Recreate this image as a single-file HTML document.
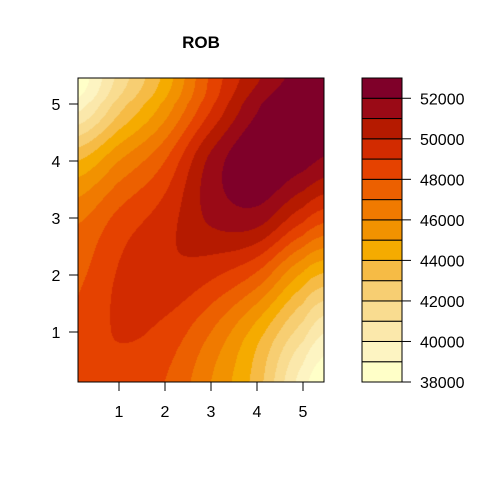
<!DOCTYPE html>
<html><head><meta charset="utf-8"><style>
body{margin:0;background:#fff;}
#wrap{position:relative;width:480px;height:480px;font-family:"Liberation Sans",Arial,sans-serif;}
canvas,svg{position:absolute;left:0;top:0;}
</style></head><body>
<div id="wrap">
<canvas id="field" width="480" height="480"></canvas>
<svg id="ov" width="480" height="480"></svg>
</div>
<script>
const gridX=[0.1,1,2,3,4,5,5.5];
const gridY=[0.14,1,2,3,4,5,5.48];
const zRow0=[48.5,48.5,48,46,43.5,39.5,38.3];
const zRow1=[48.2,49.1,48.7,47,44.5,41.5,40];
const zRow2=[47.8,49.1,49.8,49.2,47.8,44.8,43.8];
const zRow3=[46.8,48.3,49.5,51.2,51.5,49.3,48.3];
const zRow4=[44,46,48,51.3,53,52.4,51.8];
const zRow5=[39.5,42.5,45.3,48.8,51.8,53,53];
const zRow6=[38.3,41.3,44.3,48.2,50.8,52.5,52.8];
const levels=[38000,39000,40000,41000,42000,43000,44000,45000,46000,47000,48000,49000,50000,51000,52000,53000];
const bandColors=["#FFFFC8","#FDF4C2","#FBE8AB","#F9DC90","#F7CE72","#F6BB45","#F5AB00","#F29200","#F07A00","#EC6000","#E54200","#D22B00","#B51A00","#9A0A16","#7F0029"];
const xTicks=[1,2,3,4,5];
const yTicks=[1,2,3,4,5];
const legendTicks=[38000,40000,42000,44000,46000,48000,50000,52000];
const title="ROB";
const zRows=[zRow0,zRow1,zRow2,zRow3,zRow4,zRow5,zRow6];

const PL=78,PR=324,PT=78,PB=382;
const sx=v=>73+46*v, sy=v=>389-57*v;
function fidx(arr,v){if(v<=arr[0])return 0;for(let i=0;i<arr.length-1;i++){if(v<=arr[i+1])return i+(v-arr[i])/(arr[i+1]-arr[i]);}return arr.length-1;}
function cr(p0,p1,p2,p3,t){return 0.5*((2*p1)+(-p0+p2)*t+(2*p0-5*p1+4*p2-p3)*t*t+(-p0+3*p1-3*p2+p3)*t*t*t);}
function g(r,c){r=Math.max(0,Math.min(6,r));c=Math.max(0,Math.min(6,c));return zRows[r][c];}
function zAt(x,y){
  const fx=fidx(gridX,x),fy=fidx(gridY,y);
  let i=Math.min(5,Math.floor(fx)),j=Math.min(5,Math.floor(fy));
  const tx=fx-i,ty=fy-j;const col=[];
  for(let k=-1;k<=2;k++){col.push(cr(g(j+k,i-1),g(j+k,i),g(j+k,i+1),g(j+k,i+2),tx));}
  return cr(col[0],col[1],col[2],col[3],ty)*1000;
}
const ctx=document.getElementById('field').getContext('2d');
for(let px=PL;px<PR;px++){for(let py=PT;py<PB;py++){
  const x=(px+0.5-73)/46,y=(389-py-0.5)/57;
  const z=zAt(x,y);let b=0;
  for(let k=0;k<levels.length-1;k++){if(z>=levels[k])b=k;}
  ctx.fillStyle=bandColors[b];ctx.fillRect(px,py,1,1);
}}
const NS='http://www.w3.org/2000/svg';const svg=document.getElementById('ov');
function mk(t,a,parent){const e=document.createElementNS(NS,t);for(const k in a)e.setAttribute(k,a[k]);(parent||svg).appendChild(e);return e;}
const frame=mk('rect',{x:PL,y:PT,width:PR-PL,height:PB-PT,fill:'none',stroke:'#000','stroke-width':1});


const t=mk('text',{x:201,y:48,'text-anchor':'middle','font-size':17,'font-weight':'bold'});t.textContent=title;


xTicks.forEach(v=>{const X=sx(v);
  const l=mk('line',{x1:X,x2:X,y1:PB,y2:PB+9,stroke:'#000'});
  
  
  const tx=mk('text',{x:X,y:PB+35,'text-anchor':'middle','font-size':16});tx.textContent=v;
  
  
});
yTicks.forEach(v=>{const Y=sy(v);
  const l=mk('line',{x1:PL-9,x2:PL,y1:Y,y2:Y,stroke:'#000'});
  
  
  const tx=mk('text',{x:56,y:Y+6,'text-anchor':'middle','font-size':16});tx.textContent=v;
  
  
});
const LL=362,LR=402,LT=78,LB=382;
const ly=v=>LB-(v-levels[0])/(levels[levels.length-1]-levels[0])*(LB-LT);
for(let k=0;k<bandColors.length;k++){
  const r=mk('rect',{x:LL,y:ly(levels[k+1]),width:LR-LL,height:ly(levels[k])-ly(levels[k+1]),fill:bandColors[k],stroke:'#000','stroke-width':1});
  
  
}
legendTicks.forEach(v=>{const Y=ly(v);
  const l=mk('line',{x1:LR,x2:LR+9,y1:Y,y2:Y,stroke:'#000'});
  
  
  const tx=mk('text',{x:420,y:Y+6,'font-size':16});tx.textContent=v;
  
  
});
</script>
</body></html>
